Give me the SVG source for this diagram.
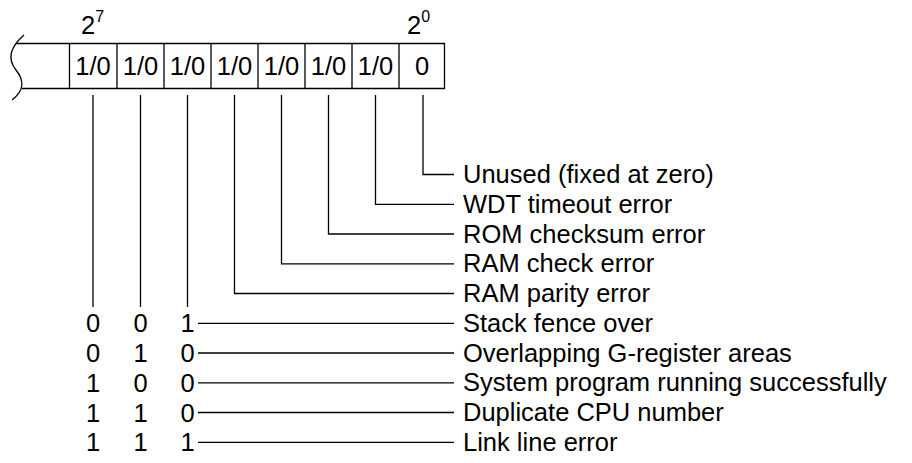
<svg xmlns="http://www.w3.org/2000/svg" width="912" height="463" viewBox="0 0 912 463">
<style>
.ln{stroke:#000;stroke-width:1.3;fill:none}
.t{font-family:"Liberation Sans",Arial,sans-serif;font-size:25.5px;fill:#000}
.c{text-anchor:middle}
.s{font-size:16px}
</style>
<rect width="912" height="463" fill="#fff"/>
<g id="register">
<path class="ln" d="M24,35 C9,48 8,60 16,70 C24,80 25,90 12,100"/>
<path class="ln" d="M16,43.5 H444.5 V88.5 H22"/>
<path class="ln" d="M69.5,43.5 V88.5 M117,43.5 V88.5 M164,43.5 V88.5 M211,43.5 V88.5 M258,43.5 V88.5 M305,43.5 V88.5 M352,43.5 V88.5 M399,43.5 V88.5"/>
<text class="t c" x="93" y="75">1/0</text>
<text class="t c" x="140.5" y="75">1/0</text>
<text class="t c" x="187.5" y="75">1/0</text>
<text class="t c" x="234.5" y="75">1/0</text>
<text class="t c" x="281.5" y="75">1/0</text>
<text class="t c" x="328.5" y="75">1/0</text>
<text class="t c" x="375.5" y="75">1/0</text>
<text class="t c" x="422" y="75">0</text>
<text class="t" x="81" y="34">2<tspan class="s" dy="-12">7</tspan></text>
<text class="t" x="407" y="34">2<tspan class="s" dy="-12">0</tspan></text>
</g>
<g id="connectors">
<path class="ln" d="M423,95 V174.5 H454"/>
<path class="ln" d="M375.5,95 V204.3 H454"/>
<path class="ln" d="M328.5,95 V234 H454"/>
<path class="ln" d="M281.5,95 V263.8 H454"/>
<path class="ln" d="M234.5,95 V293.5 H454"/>
<path class="ln" d="M187.5,95 V307 M140.5,95 V307 M93,95 V307"/>
<path class="ln" d="M198,323.3 H454 M198,353 H454 M198,382.8 H454 M198,412.5 H454 M198,442.3 H454"/>
</g>
<g id="labels">
<text class="t" x="463" y="183">Unused (fixed at zero)</text>
<text class="t" x="463" y="212.8">WDT timeout error</text>
<text class="t" x="463" y="242.5">ROM checksum error</text>
<text class="t" x="463" y="272.3">RAM check error</text>
<text class="t" x="463" y="302">RAM parity error</text>
<text class="t" x="463" y="331.8">Stack fence over</text>
<text class="t" x="463" y="361.5">Overlapping G-register areas</text>
<text class="t" x="463" y="391.3">System program running successfully</text>
<text class="t" x="463" y="421">Duplicate CPU number</text>
<text class="t" x="463" y="450.8">Link line error</text>
</g>
<g id="codes">
<text class="t c" x="93" y="332.3">0</text><text class="t c" x="140.5" y="332.3">0</text><text class="t c" x="187.5" y="332.3">1</text>
<text class="t c" x="93" y="362">0</text><text class="t c" x="140.5" y="362">1</text><text class="t c" x="187.5" y="362">0</text>
<text class="t c" x="93" y="391.8">1</text><text class="t c" x="140.5" y="391.8">0</text><text class="t c" x="187.5" y="391.8">0</text>
<text class="t c" x="93" y="421.5">1</text><text class="t c" x="140.5" y="421.5">1</text><text class="t c" x="187.5" y="421.5">0</text>
<text class="t c" x="93" y="451.3">1</text><text class="t c" x="140.5" y="451.3">1</text><text class="t c" x="187.5" y="451.3">1</text>
</g>
</svg>
